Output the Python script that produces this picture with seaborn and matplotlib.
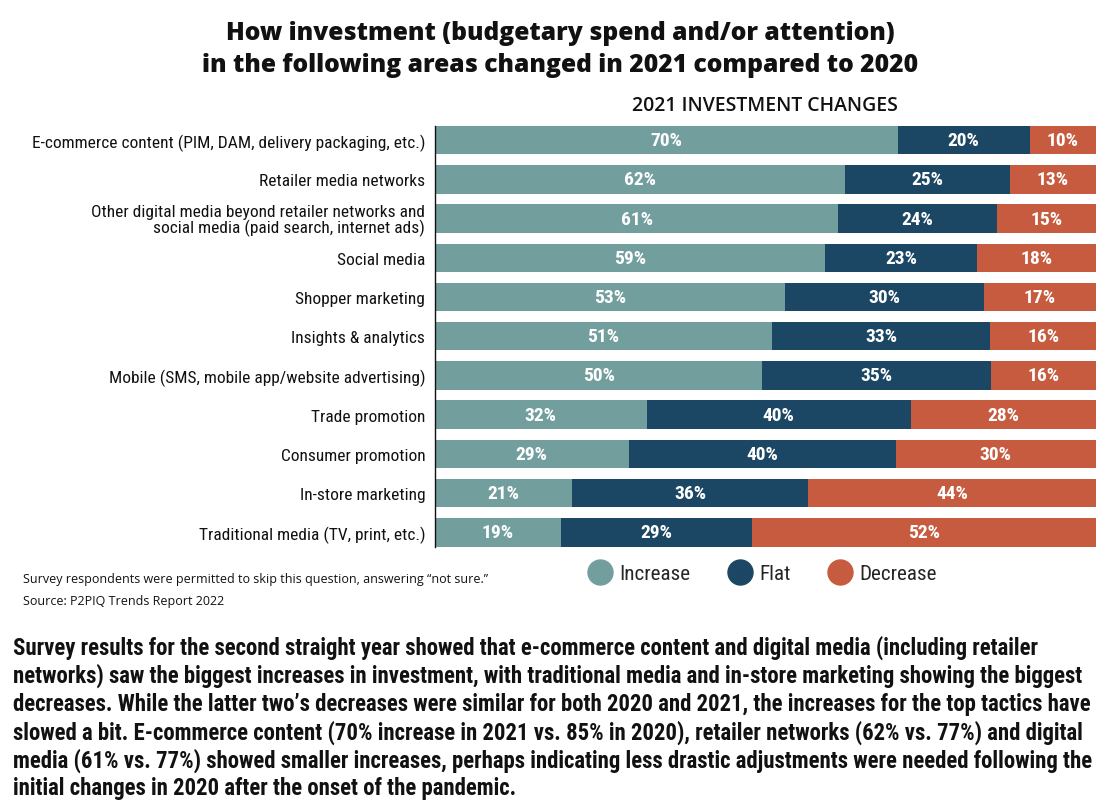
import matplotlib
matplotlib.use("Agg")
import matplotlib.pyplot as plt
from matplotlib import font_manager
from matplotlib.lines import Line2D
import seaborn as sns
import pandas as pd

categories = [
    "E-commerce content (PIM, DAM, delivery packaging, etc.)",
    "Retailer media networks",
    "Other digital media beyond retailer networks and\nsocial media (paid search, internet ads)",
    "Social media",
    "Shopper marketing",
    "Insights & analytics",
    "Mobile (SMS, mobile app/website advertising)",
    "Trade promotion",
    "Consumer promotion",
    "In-store marketing",
    "Traditional media (TV, print, etc.)",
]
increase = [70, 62, 61, 59, 53, 51, 50, 32, 29, 21, 19]
flat = [20, 25, 24, 23, 30, 33, 35, 40, 40, 36, 29]
decrease = [10, 13, 15, 18, 17, 16, 16, 28, 30, 44, 52]
series_names = ["Increase", "Flat", "Decrease"]

title = "How investment (budgetary spend and/or attention)\nin the following areas changed in 2021 compared to 2020"
subtitle = "2021 INVESTMENT CHANGES"
footnote_lines = ["Survey respondents were permitted to skip this question, answering \u201cnot sure.\u201d",
                  "Source: P2PIQ Trends Report 2022"]
paragraph = [
    "Survey results for the second straight year showed that e-commerce content and digital media (including retailer",
    "networks) saw the biggest increases in investment, with traditional media and in-store marketing showing the biggest",
    "decreases. While the latter two\u2019s decreases were similar for both 2020 and 2021, the increases for the top tactics have",
    "slowed a bit. E-commerce content (70% increase in 2021 vs. 85% in 2020), retailer networks (62% vs. 77%) and digital",
    "media (61% vs. 77%) showed smaller increases, perhaps indicating less drastic adjustments were needed following the",
    "initial changes in 2020 after the onset of the pandemic.",
]

C_INC = "#729f9e"
C_FLAT = "#1b4764"
C_DEC = "#c75b3f"
INK = "#111111"

available = {f.name for f in font_manager.fontManager.ttflist}


def pick(cands):
    for c in cands:
        if c in available:
            return c
    return None


cond = pick(["Roboto Condensed", "Open Sans Condensed", "Liberation Sans Narrow",
             "Noto Sans Condensed", "Arial Narrow"])
stretch = "normal"
if cond is None:
    cond = "DejaVu Sans"
    stretch = "condensed"
wide = pick(["Open Sans", "Lato", "DejaVu Sans"])

sns.set_theme(style="white")
plt.rcParams["font.family"] = [wide, "DejaVu Sans"]

df = pd.DataFrame({"category": categories, "inc": increase, "flat": flat, "dec": decrease})
tot = df["inc"] + df["flat"] + df["dec"]
df["w_inc"] = df["inc"] / tot * 100
df["w_c2"] = (df["inc"] + df["flat"]) / tot * 100
df["w_c3"] = 100.0

W, H = 1117, 804
fig = plt.figure(figsize=(W / 100, H / 100), dpi=100)
renderer = fig.canvas.get_renderer()

top_px, bot_px = 121.4, 553.1
ax = fig.add_axes([435 / W, 1 - bot_px / H, 661 / W, (bot_px - top_px) / H])

bw = 0.726
sns.barplot(data=df, y="category", x="w_c3", color=C_DEC, orient="h", width=bw, ax=ax, saturation=1, linewidth=0)
sns.barplot(data=df, y="category", x="w_c2", color=C_FLAT, orient="h", width=bw, ax=ax, saturation=1, linewidth=0)
sns.barplot(data=df, y="category", x="w_inc", color=C_INC, orient="h", width=bw, ax=ax, saturation=1, linewidth=0)

ax.set_xlim(0, 100)
ax.set_ylim(10.5, -0.5)
ax.set_xlabel("")
ax.set_ylabel("")
ax.set_xticks([])
for s in ["top", "right", "bottom"]:
    ax.spines[s].set_visible(False)
ax.spines["left"].set_color("#111111")
ax.spines["left"].set_linewidth(1.0)
ax.spines["left"].set_bounds(-bw / 2, len(categories) - 1 + bw / 2)
ax.tick_params(axis="y", length=0, pad=7)
ax.set_yticks(range(len(categories)))


def fit(t, target_px, max_size=None):
    size = t.get_fontsize()
    for _ in range(3):
        w = t.get_window_extent(renderer=renderer).width
        size = size * target_px / w
        if max_size is not None:
            size = min(size, max_size)
        t.set_fontsize(size)
    return size


# y tick labels: size fitted to the longest label width
probe = fig.text(0, 0, categories[0], fontsize=14, family=cond, fontstretch=stretch)
lab_size = fit(probe, 394, max_size=15)
probe.remove()
ax.set_yticklabels(categories, fontsize=lab_size, family=cond, fontstretch=stretch,
                   color=INK, linespacing=0.95)

# value labels
probe = fig.text(0, 0, "70%", fontsize=14, family=cond, fontstretch=stretch, fontweight="bold")
val_size = fit(probe, 32, max_size=16)
probe.remove()
for i in range(len(categories)):
    starts = [0, df["w_inc"][i], df["w_c2"][i]]
    ends = [df["w_inc"][i], df["w_c2"][i], 100]
    vals = [increase[i], flat[i], decrease[i]]
    for s0, e0, v in zip(starts, ends, vals):
        ax.text((s0 + e0) / 2, i, f"{v}%", ha="center", va="center", color="white",
                fontsize=val_size, fontweight="bold", family=cond, fontstretch=stretch)

# title
t1, t2 = title.split("\n")
tt1 = fig.text(560 / W, 1 - 33 / H, t1, ha="center", va="center", fontsize=16,
               fontweight=800, color=INK)
tsize = fit(tt1, 668)
tt2 = fig.text(560 / W, 1 - 66 / H, t2, ha="center", va="center", fontsize=tsize,
               fontweight=800, color=INK)

st = fig.text(765 / W, 1 - 106 / H, subtitle, ha="center", va="center", fontsize=12,
              fontweight="semibold", color=INK)
fit(st, 266)

# footnote
fn1 = fig.text(23 / W, 1 - 580 / H, footnote_lines[0], ha="left", va="center", fontsize=9, color=INK)
fsize = fit(fn1, 463)
fig.text(23 / W, 1 - 602 / H, footnote_lines[1], ha="left", va="center", fontsize=fsize, color=INK)

# legend
handles = [Line2D([0], [0], marker="o", linestyle="", markersize=18, markerfacecolor=c, markeredgecolor=c)
           for c in [C_INC, C_FLAT, C_DEC]]
probe = fig.text(0, 0, "Increase", fontsize=14, family=cond, fontstretch=stretch)
leg_size = fit(probe, 71, max_size=16)
probe.remove()
fig.legend(handles, series_names, loc="center", bbox_to_anchor=(762 / W, 1 - 575 / H), ncol=3,
           frameon=False, handletextpad=0.3, columnspacing=1.75, handlelength=1.2,
           prop={"family": cond, "stretch": stretch, "size": leg_size})

# paragraph
y0 = 648
ptexts = []
for k, line in enumerate(paragraph):
    ptexts.append(fig.text(13 / W, 1 - (y0 + k * 28.2) / H, line, ha="left", va="center", fontsize=13,
                           fontweight="bold", family=cond, fontstretch=stretch, color=INK))
psize = fit(ptexts[1], 1070)
for p in ptexts:
    p.set_fontsize(psize)

fig.savefig("out.png", dpi=100)
